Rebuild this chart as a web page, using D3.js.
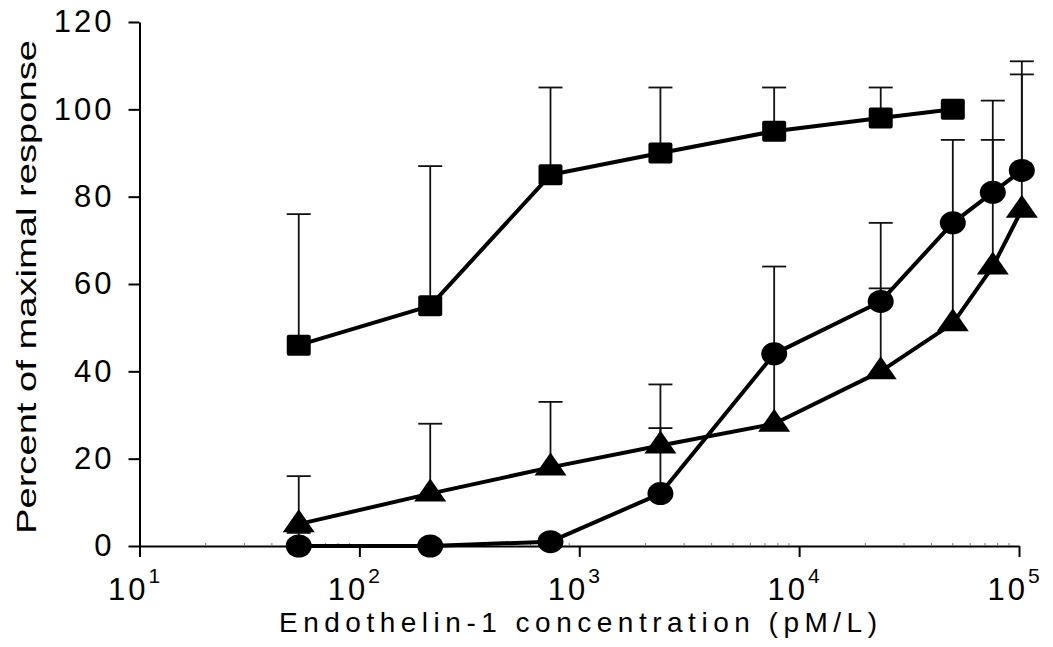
<!DOCTYPE html>
<html lang="en">
<head>
    <meta charset="UTF-8">
    <title>Endothelin-1 concentration response</title>
    <script src="https://d3js.org/d3.v7.min.js"></script>
    <style>
        body { margin: 0; background: white; }
        text { font-family: "Liberation Sans", Arial, sans-serif; fill: black; }
        .axis path, .axis line { stroke: black; stroke-width: 2; }
    </style>
</head>
<body>
    <svg width="1053" height="647"></svg>
    <script>
        // concentrations (pM/L)
        const conc = [53, 210, 740, 2340, 7700, 23500, 50000, 76000, 103000];

        // squares
        const squareMean = [46, 55, 85, 90, 95, 98, 100];
        const squareUpper = [76, 87, 105, 105, 105, 105, null];

        // circles
        const circleMean = [0, 0, 1, 12, 44, 56, 74, 81, 86];
        const circleUpper = [3, null, null, 27, 64, 74, 93, 102, 111];

        // triangles
        const triMean = [5, 12, 18, 23, 28, 40, 51, 64, 77];
        const triUpper = [16, 28, 33, 37, 44, 59, 74, 93, 108];

        const yTicks = [0, 20, 40, 60, 80, 100, 120];
        const xTicks = [1e1, 1e2, 1e3, 1e4, 1e5];
        const xTickExp = ["1", "2", "3", "4", "5"];

        const svg = d3.select("svg");

        const x = d3.scaleLog().domain([10, 1e5]).range([139.5, 1019]);
        const y = d3.scaleLinear().domain([0, 120]).range([546, 22]);

        const series = [
            { shape: "square", mean: squareMean, upper: squareUpper },
            { shape: "circle", mean: circleMean, upper: circleUpper },
            { shape: "triangle", mean: triMean, upper: triUpper }
        ].map(s => {
            s.points = s.mean.map((m, i) => ({ c: conc[i], m: m, u: s.upper[i] }));
            return s;
        });

        // axes
        const yAxis = svg.append("g")
            .attr("class", "axis")
            .attr("transform", `translate(${x(10)},0)`)
            .call(d3.axisLeft(y).tickValues(yTicks).tickSize(11).tickSizeOuter(0).tickPadding(14));
        yAxis.selectAll("text")
            .attr("font-size", 31)
            .attr("letter-spacing", 3)
            .attr("font-family", "Liberation Sans, Arial, sans-serif");

        const xAxis = svg.append("g")
            .attr("class", "axis")
            .attr("transform", `translate(0,${y(0)})`)
            .call(d3.axisBottom(x).tickValues(xTicks).tickSize(11).tickSizeOuter(0).tickFormat(""));

        // minor ticks
        const minor = [];
        for (let d = 10; d < 1e5; d *= 10) {
            for (let k = 2; k <= 9; k++) minor.push(d * k);
        }
        svg.append("g").selectAll("line")
            .data(minor)
            .enter().append("line")
            .attr("x1", d => x(d)).attr("x2", d => x(d))
            .attr("y1", y(0)).attr("y2", y(0) - 3)
            .attr("stroke", "#777")
            .attr("stroke-width", 1);

        // x tick labels with superscripts
        const xl = svg.append("g").selectAll("text")
            .data(xTicks)
            .enter().append("text")
            .attr("x", d => x(d) - 4)
            .attr("y", 600)
            .attr("text-anchor", "middle")
            .attr("font-size", 31)
            .attr("letter-spacing", 3);
        xl.append("tspan").text("10");
        xl.append("tspan")
            .attr("font-size", 21)
            .attr("dy", -17)
            .text((d, i) => xTickExp[i]);

        // axis titles
        svg.append("text")
            .attr("x", 578)
            .attr("y", 632)
            .attr("text-anchor", "middle")
            .attr("font-size", 28)
            .attr("textLength", 598)
            .attr("lengthAdjust", "spacing")
            .text("Endothelin-1 concentration (pM/L)");

        svg.append("text")
            .attr("transform", "translate(36,287) rotate(-90)")
            .attr("text-anchor", "middle")
            .attr("font-size", 28)
            .attr("textLength", 494)
            .attr("lengthAdjust", "spacingAndGlyphs")
            .text("Percent of maximal response");

        // error bars (upper only)
        series.forEach(s => {
            const pts = s.points.filter(p => p.u !== null);
            const g = svg.append("g").attr("stroke", "#111").attr("stroke-width", 1.8);
            g.selectAll(".bar").data(pts).enter().append("line")
                .attr("x1", p => x(p.c)).attr("x2", p => x(p.c))
                .attr("y1", p => y(p.m)).attr("y2", p => y(p.u));
            g.selectAll(".cap").data(pts).enter().append("line")
                .attr("x1", p => x(p.c) - 12).attr("x2", p => x(p.c) + 12)
                .attr("y1", p => y(p.u)).attr("y2", p => y(p.u));
        });

        // lines
        const line = d3.line().x(p => x(p.c)).y(p => y(p.m));
        series.forEach(s => {
            svg.append("path")
                .datum(s.points)
                .attr("fill", "none")
                .attr("stroke", "black")
                .attr("stroke-width", 4)
                .attr("stroke-linejoin", "round")
                .attr("d", line);
        });

        // markers
        series.forEach(s => {
            const g = svg.append("g").attr("fill", "black");
            const m = g.selectAll(".m").data(s.points).enter();
            if (s.shape === "square") {
                m.append("rect")
                    .attr("x", p => x(p.c) - 12).attr("y", p => y(p.m) - 10.5)
                    .attr("width", 24).attr("height", 21).attr("rx", 2);
            } else if (s.shape === "circle") {
                m.append("ellipse")
                    .attr("cx", p => x(p.c)).attr("cy", p => y(p.m))
                    .attr("rx", 13).attr("ry", 11.5);
            } else {
                m.append("path")
                    .attr("transform", p => `translate(${x(p.c)},${y(p.m)})`)
                    .attr("d", "M0,-15L16,8L-16,8Z");
            }
        });
    </script>
</body>
</html>
